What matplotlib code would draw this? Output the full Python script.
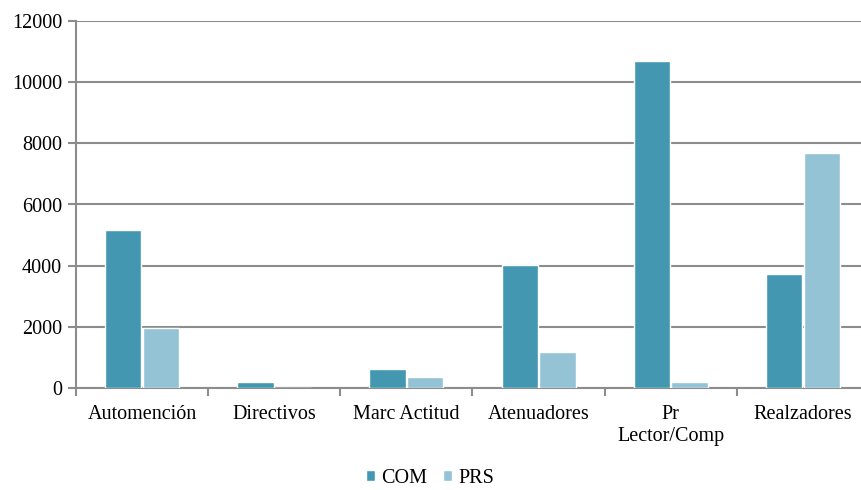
import numpy as np
import matplotlib.pyplot as plt

plt.rcParams['font.family'] = ['Liberation Serif', 'DejaVu Serif']

categories = ['Automención', 'Directivos', 'Marc Actitud', 'Atenuadores', 'Pr\nLector/Comp', 'Realzadores']
com = [5170, 200, 630, 4020, 10700, 3740]
prs = [1960, 0, 370, 1180, 200, 7700]

fig = plt.figure(figsize=(8.61, 4.9), dpi=100)
ax = fig.add_axes([76 / 861, 1 - 388 / 490, (869 - 76) / 861, 367 / 490])

x = np.arange(len(categories))
w = 0.275
ax.bar(x - w / 2 - 0.005, com, w, color='#4397b0', edgecolor='white', linewidth=1, label='COM', zorder=3)
ax.bar(x + w / 2 + 0.005, prs, w, color='#93c3d5', edgecolor='white', linewidth=1, label='PRS', zorder=3)

ax.set_xlim(-0.5, len(categories) - 0.5)
ax.set_ylim(0, 12000)
ax.set_yticks(range(0, 12001, 2000))
ax.yaxis.grid(True, color='#8c8c8c', linewidth=1.5, zorder=0)
ax.set_axisbelow(True)

ax.set_xticks(np.arange(-0.5, len(categories), 1))
ax.set_xticklabels([])
ax.set_xticks(x, minor=True)
ax.set_xticklabels(categories, minor=True, fontsize=14.5, linespacing=1.25)
ax.tick_params(axis='x', which='minor', length=0, pad=12)
ax.tick_params(axis='x', which='major', length=6, color='#8c8c8c', width=1.5)
ax.tick_params(axis='y', length=6, color='#8c8c8c', width=1.5, labelsize=14.5, pad=4)

for s in ['top', 'right']:
    ax.spines[s].set_visible(False)
for s in ['left', 'bottom']:
    ax.spines[s].set_color('#8c8c8c')
    ax.spines[s].set_linewidth(1.5)

fig.legend(loc='center', bbox_to_anchor=(430 / 861, 1 - 478 / 490), ncol=2, frameon=False,
           fontsize=14.5, handlelength=0.45, handleheight=0.45, handletextpad=0.3, columnspacing=0.8,
           borderpad=0.1)

fig.savefig('out.png', dpi=100)
